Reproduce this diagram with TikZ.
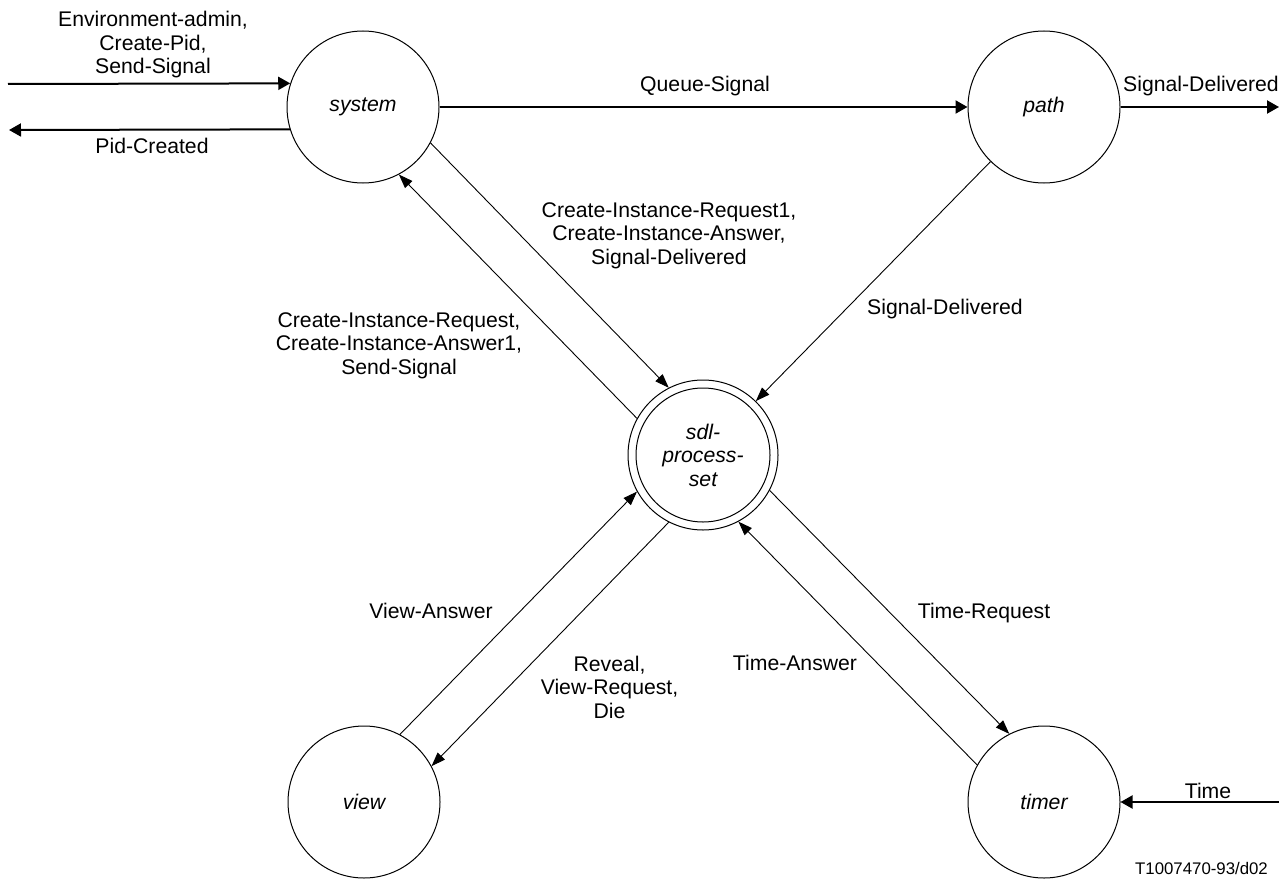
\documentclass[tikz,border=0pt]{standalone}
\usepackage{fontspec}
\setmainfont{Liberation Sans}
\usetikzlibrary{arrows.meta}
\begin{document}
\begin{tikzpicture}[x=1pt,y=1pt,
  every node/.style={font=\fontsize{21.2}{23.5}\selectfont},
  state/.style={draw,circle,line width=1pt,minimum size=152pt,inner sep=0pt,font=\fontsize{21.2}{23.5}\selectfont\itshape},
  lbl/.style={align=center,anchor=base,inner sep=0pt},
  thin/.style={line width=0.9pt,-{Triangle[length=14pt,width=10pt]}},
  thick/.style={line width=2pt,-{Triangle[length=12pt,width=13pt]}}]
\useasboundingbox (0,0) rectangle (1281,-880);
% states
\node[state] (system) at (363,-107) {system};
\node[state] (path) at (1044,-107) {path};
\node[state] (view) at (364,-802) {view};
\node[state] (timer) at (1044,-802) {timer};
\node[state,minimum size=150pt,align=center] (sdl) at (703,-455) {sdl-\\process-\\set};
\draw[line width=1pt] (sdl.center) circle[radius=67pt];
% free ends
\coordinate (envin) at (8,-84);
\coordinate (envout) at (9,-130);
\coordinate (sdout) at (1279,-107);
\coordinate (timein) at (1279,-802);
% horizontal connectors
\draw[thick] (envin) -- (system.162.38);
\draw[thick] (system.197.62) -- (envout);
\draw[thick] (system) -- (path);
\draw[thick] (path) -- (sdout);
\draw[thick] (timein) -- (timer);
% diagonal connectors
\draw[thin] (system.-28.84) -- (sdl.117.27);
\draw[thin] (sdl.151.39) -- (system.-62.5);
\draw[thin] (path) -- (sdl);
\draw[thin] (view.62.49) -- (sdl.-151.4);
\draw[thin] (sdl.-117.28) -- (view.28.83);
\draw[thin] (sdl.-28.44) -- (timer.117.67);
\draw[thin] (timer.151.33) -- (sdl.-62.56);
% labels (multi-line: base = last line)
\node[lbl] (l1) at (153,-74) {Environment-admin,\\Create-Pid,\\Send-Signal};
\node[lbl] (l2) at (152,-153) {Pid-Created};
\node[lbl] (l3) at (705,-92) {Queue-Signal};
\node[lbl] (l4) at (1201,-92) {Signal-Delivered};
\node[lbl] (l5) at (669,-264) {Create-Instance-Request1,\\Create-Instance-Answer,\\Signal-Delivered};
\node[lbl] (l6) at (945,-314) {Signal-Delivered};
\node[lbl] (l7) at (399,-374) {Create-Instance-Request,\\Create-Instance-Answer1,\\Send-Signal};
\node[lbl] (l8) at (431,-618) {View-Answer};
\node[lbl] (l9) at (609.5,-718) {Reveal,\\View-Request,\\Die};
\node[lbl] (l10) at (795,-670) {Time-Answer};
\node[lbl] (l11) at (984,-618) {Time-Request};
\node[lbl] (l12) at (1208,-798) {Time};
\node[lbl,font=\fontsize{16.8}{19}\selectfont] (l13) at (1201.5,-874) {T1007470-93/d02};
\end{tikzpicture}
\end{document}
